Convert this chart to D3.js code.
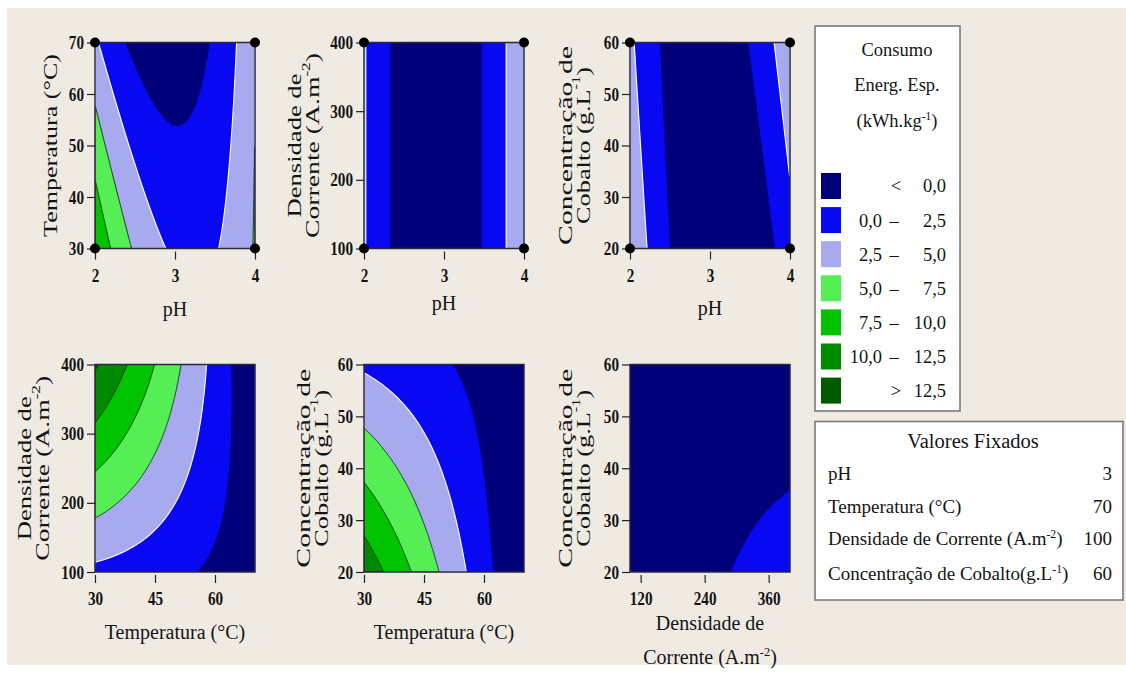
<!DOCTYPE html>
<html>
<head>
<meta charset="utf-8">
<script src="https://cdn.jsdelivr.net/npm/d3@7"></script>
<style>
  html, body { margin: 0; padding: 0; background: #ffffff; }
  svg { display: block; }
  text { font-family: "Liberation Serif", "Times New Roman", serif; fill: #141414; }
</style>
</head>
<body>
<svg id="chart" width="1126" height="673"></svg>
<script>
// ---------------- data ----------------
// contour levels of specific energy consumption (kWh.kg-1) and band colours
const levels = [0, 2.5, 5, 7.5, 10, 12.5];
const bandColors = ["#00007a", "#0808f2", "#a8aaf0", "#55ee55", "#00c400", "#008a00", "#005a00"];
const legendLow  = ["<", "0,0", "2,5", "5,0", "7,5", "10,0", ">"];
const legendHigh = ["0,0", "2,5", "5,0", "7,5", "10,0", "12,5", "12,5"];

// factor ranges and tick values
const phDomain   = [2, 4];
const tempDomain = [30, 70];
const densDomain = [100, 400];
const cobDomain  = [20, 60];
const phTicks    = [2, 3, 4];
const tempTicksY = [30, 40, 50, 60, 70];
const tempTicksX = [30, 45, 60];
const densTicksY = [100, 200, 300, 400];
const densTicksX = [120, 240, 360];
const cobTicks   = [20, 30, 40, 50, 60];

// fixed (hold) values
const fixedNames  = ["pH", "Temperatura (°C)", "Densidade de Corrente (A.m^{-2})", "Concentração de Cobalto(g.L^{-1})"];
const fixedValues = ["3", "70", "100", "60"];

// contour crossings [x, y, level] for each factor pair
const phTempLevels = [
  [2.354, 70, 0], [3.4375, 70, 0], [3.03, 52.8, 0], [2.625, 61.6, 0], [3.31, 61.6, 0],
  [2.054, 70, 2.5], [2.46, 49.9, 2.5], [2.86, 30, 2.5], [3.77, 70, 2.5], [3.69, 49.9, 2.5], [3.54, 30, 2.5],
  [2, 57.3, 5], [2.23, 42.1, 5], [2.46, 30, 5], [3.96, 30, 5], [4, 38.8, 5],
  [2, 44, 7.5], [2.1, 37, 7.5], [2.196, 30, 7.5]
];
const phDensLevels = [
  [2.03, 100, 2.5], [2.313, 100, 0], [3.457, 100, 0], [3.783, 100, 2.5],
  [2.03, 250, 2.5], [2.313, 250, 0], [3.457, 250, 0], [3.783, 250, 2.5],
  [2.03, 400, 2.5], [2.313, 400, 0], [3.457, 400, 0], [3.783, 400, 2.5]
];
const phCobLevels = [
  [2.375, 60, 0], [2.44, 40, 0], [2.51, 20, 0], [3.5, 60, 0], [3.646, 39.9, 0], [3.81, 20, 0],
  [2.054, 60, 2.5], [2.13, 40, 2.5], [2.208, 20, 2.5], [3.79, 60, 2.5], [3.896, 47, 2.5], [4, 34, 2.5]
];
const tempDensLevels = [
  [37.9, 400, 10], [32.9, 345, 10], [30, 306.5, 10],
  [44.9, 400, 7.5], [37.05, 292, 7.5], [30, 245.9, 7.5],
  [51.3, 400, 5], [42.9, 248, 5], [30, 180.5, 5],
  [57.8, 400, 2.5], [55.1, 262.8, 2.5], [49.9, 204.7, 2.5], [44.1, 151.4, 2.5], [30, 115, 2.5],
  [64.4, 400, 0], [63.2, 262.8, 0], [60.7, 166, 0], [56.5, 100, 0]
];
const tempCobLevels = [
  [54.1, 60, 0], [59, 39.8, 0], [62, 20, 0],
  [30, 58.2, 2.5], [41.2, 48.2, 2.5], [51.2, 35.3, 2.5], [56.1, 20, 2.5],
  [30, 48.2, 5], [42.9, 35.3, 5], [49.1, 20, 5],
  [30, 37.8, 7.5], [36.2, 30.1, 7.5], [41.6, 20, 7.5],
  [30, 27.5, 10], [34.1, 20, 10]
];
const densCobLevels = [
  [292.7, 20, 0], [324, 28, 0], [400, 35.4, 0],
  [100, 60, -1.8], [400, 60, -1.8], [100, 20, -2.3], [400, 20, 1.2]
];

// ---------------- helpers ----------------
// least-squares quadratic response surface through the read crossings
function fitSurface(pts, xd, yd) {
  const cx = (xd[0] + xd[1]) / 2, hx = (xd[1] - xd[0]) / 2;
  const cy = (yd[0] + yd[1]) / 2, hy = (yd[1] - yd[0]) / 2;
  const basis = (x, y) => { const u = (x - cx) / hx, v = (y - cy) / hy; return [1, u, v, u * u, v * v, u * v]; };
  const n = 6;
  const A = Array.from({ length: n }, () => new Array(n).fill(0));
  const b = new Array(n).fill(0);
  pts.forEach(([x, y, z]) => {
    const r = basis(x, y);
    for (let i = 0; i < n; i++) { b[i] += r[i] * z; for (let j = 0; j < n; j++) A[i][j] += r[i] * r[j]; }
  });
  for (let i = 0; i < n; i++) A[i][i] += 1e-4;
  for (let k = 0; k < n; k++) {
    let p = k;
    for (let i = k + 1; i < n; i++) if (Math.abs(A[i][k]) > Math.abs(A[p][k])) p = i;
    [A[k], A[p]] = [A[p], A[k]]; [b[k], b[p]] = [b[p], b[k]];
    for (let i = k + 1; i < n; i++) {
      const f = A[i][k] / A[k][k];
      for (let j = k; j < n; j++) A[i][j] -= f * A[k][j];
      b[i] -= f * b[k];
    }
  }
  const c = new Array(n).fill(0);
  for (let i = n - 1; i >= 0; i--) {
    let s = b[i];
    for (let j = i + 1; j < n; j++) s -= A[i][j] * c[j];
    c[i] = s / A[i][i];
  }
  return (x, y) => basis(x, y).reduce((s, r, i) => s + r * c[i], 0);
}

// text with ^{...} superscripts
function rich(sel, str, fs) {
  const parts = str.split(/(\^\{[^}]*\})/).filter(p => p.length);
  let raised = false;
  parts.forEach(p => {
    if (p.startsWith("^{")) {
      sel.append("tspan").attr("dy", -0.38 * fs).attr("font-size", 0.62 * fs).text(p.slice(2, -1));
      raised = true;
    } else {
      const t = sel.append("tspan").text(p);
      if (raised) { t.attr("dy", 0.38 * fs); raised = false; }
    }
  });
  return sel;
}

// ---------------- layout ----------------
const svg = d3.select("#chart");
svg.append("rect").attr("width", 1126).attr("height", 673).attr("fill", "#ffffff");
svg.append("rect").attr("x", 7).attr("y", 8).attr("width", 1119).attr("height", 657).attr("fill", "#efebe3");

const colX = [95, 364, 630];
const rowY = [42.5, 364.5];
const plotW = 160, plotH = 206;
// drawn length of each rotated axis title
const rotLen = {
  "Temperatura (°C)": 183, "Densidade de": 144, "Corrente (A.m^{-2})": 185,
  "Concentração de": 199, "Cobalto (g.L^{-1})": 157
};

const panels = [
  { pts: phTempLevels,   xd: phDomain,   yd: tempDomain, xt: phTicks,    yt: tempTicksY, col: 0, row: 0,
    xTitle: ["pH"], yTitle: ["Temperatura (°C)"], yOff: [-45], dots: true },
  { pts: phDensLevels,   xd: phDomain,   yd: densDomain, xt: phTicks,    yt: densTicksY, col: 1, row: 0,
    xTitle: ["pH"], yTitle: ["Densidade de", "Corrente (A.m^{-2})"], yOff: [-69, -51], dots: true },
  { pts: phCobLevels,    xd: phDomain,   yd: cobDomain,  xt: phTicks,    yt: cobTicks,   col: 2, row: 0,
    xTitle: ["pH"], yTitle: ["Concentração de", "Cobalto (g.L^{-1})"], yOff: [-65, -47], dots: true },
  { pts: tempDensLevels, xd: tempDomain, yd: densDomain, xt: tempTicksX, yt: densTicksY, col: 0, row: 1,
    xTitle: ["Temperatura (°C)"], yTitle: ["Densidade de", "Corrente (A.m^{-2})"], yOff: [-70, -52], dots: false },
  { pts: tempCobLevels,  xd: tempDomain, yd: cobDomain,  xt: tempTicksX, yt: cobTicks,   col: 1, row: 1,
    xTitle: ["Temperatura (°C)"], yTitle: ["Concentração de", "Cobalto (g.L^{-1})"], yOff: [-61, -43], dots: false },
  { pts: densCobLevels,  xd: densDomain, yd: cobDomain,  xt: densTicksX, yt: cobTicks,   col: 2, row: 1,
    xTitle: ["Densidade de", "Corrente (A.m^{-2})"], yTitle: ["Concentração de", "Cobalto (g.L^{-1})"], yOff: [-65, -47], dots: false }
];

const tickFs = 19, tickSX = 0.8, titleFs = 20, rotFs = 18.5;
const serif = '"Liberation Serif", "Times New Roman", serif';
const defs = svg.append("defs");

panels.forEach((p, idx) => {
  const x0 = colX[p.col], y0 = rowY[p.row];
  const h = p.row === 0 ? plotH : plotH + 1.5;
  const xs = d3.scaleLinear().domain(p.xd).range([x0, x0 + plotW]);
  const ys = d3.scaleLinear().domain(p.yd).range([y0 + h, y0]);
  const f = fitSurface(p.pts, p.xd, p.yd);

  // sample the surface on a grid and trace filled contour bands
  const nx = 160, ny = 206;
  const vals = new Float64Array(nx * ny);
  for (let j = 0; j < ny; j++) for (let i = 0; i < nx; i++) {
    const xv = p.xd[0] + (i + 0.5) / nx * (p.xd[1] - p.xd[0]);
    const yv = p.yd[1] - (j + 0.5) / ny * (p.yd[1] - p.yd[0]);
    vals[j * nx + i] = f(xv, yv);
  }
  const bands = d3.contours().size([nx, ny]).thresholds(levels)(vals);
  const proj = d3.geoTransform({
    point(gx, gy) {
      this.stream.point(
        xs(p.xd[0] + gx / nx * (p.xd[1] - p.xd[0])),
        ys(p.yd[1] - gy / ny * (p.yd[1] - p.yd[0]))
      );
    }
  });
  const path = d3.geoPath(proj);

  defs.append("clipPath").attr("id", "clip" + idx)
    .append("rect").attr("x", x0).attr("y", y0).attr("width", plotW).attr("height", h);
  const g = svg.append("g").attr("clip-path", `url(#clip${idx})`);
  g.append("rect").attr("x", x0).attr("y", y0).attr("width", plotW).attr("height", h).attr("fill", bandColors[0]);
  bands.forEach((b, k) => g.append("path").attr("d", path(b)).attr("fill", bandColors[k + 1]));
  bands.forEach((b, k) => {
    const lv = levels[k];
    if (lv === 0) return;
    g.append("path").attr("d", path(b)).attr("fill", "none")
      .attr("stroke", lv === 2.5 ? "#ffffff" : "#0b300b")
      .attr("stroke-width", lv === 2.5 ? 1.1 : 0.9);
  });

  // frame
  svg.append("rect").attr("x", x0).attr("y", y0).attr("width", plotW).attr("height", h)
    .attr("fill", "none").attr("stroke", "#2a2a3a").attr("stroke-width", 1.5);

  // axes
  const ax = svg.append("g").attr("transform", `translate(0,${y0 + h + 3})`)
    .call(d3.axisBottom(xs).tickValues(p.xt).tickSize(8).tickPadding(9).tickFormat(d3.format("d")));
  const ay = svg.append("g").attr("transform", `translate(${x0},0)`)
    .call(d3.axisLeft(ys).tickValues(p.yt).tickSize(8).tickPadding(3).tickFormat(d3.format("d")));
  [ax, ay].forEach(a => {
    a.attr("font-family", serif).attr("font-size", tickFs);
    a.select(".domain").remove();
    a.selectAll(".tick line").attr("stroke", "#222").attr("stroke-width", 1.2);
    a.selectAll(".tick text").attr("fill", "#141414").attr("font-weight", "bold")
      .style("font-family", serif).style("font-size", tickFs + "px");
  });
  ay.selectAll(".tick text").attr("x", -11 / tickSX).attr("transform", `scale(${tickSX},1)`);
  ax.selectAll(".tick text").attr("transform", `scale(${tickSX},1)`);

  // corner design points
  if (p.dots) {
    [[p.xd[0], p.yd[0]], [p.xd[1], p.yd[0]], [p.xd[0], p.yd[1]], [p.xd[1], p.yd[1]]].forEach(([a, b]) =>
      svg.append("circle").attr("cx", xs(a)).attr("cy", ys(b)).attr("r", 5).attr("fill", "#000"));
  }

  // y title (rotated, stretched along its length)
  const cyT = y0 + h / 2;
  p.yTitle.forEach((line, li) => {
    const t = svg.append("g").attr("transform", `translate(${x0 + p.yOff[li]},${cyT}) rotate(-90)`)
      .append("text").attr("text-anchor", "middle").attr("dominant-baseline", "central")
      .attr("font-size", rotFs);
    rich(t, line, rotFs);
    const len = t.node().getComputedTextLength();
    t.attr("transform", `scale(${rotLen[line] / len},1)`);
  });

  // x title
  const xBaseTop = [316, 310, 315];
  const xBaseBottom = p.xTitle.length === 1 ? [639] : [630, 664];
  p.xTitle.forEach((line, li) => {
    const by = p.row === 0 ? xBaseTop[p.col] : xBaseBottom[li];
    const t = svg.append("text").attr("x", x0 + plotW / 2).attr("y", by)
      .attr("text-anchor", "middle").attr("font-size", titleFs);
    rich(t, line, titleFs);
  });
});

// ---------------- legend ----------------
const lg = svg.append("g");
lg.append("rect").attr("x", 815).attr("y", 26).attr("width", 145).attr("height", 385)
  .attr("fill", "#ffffff").attr("stroke", "#7a7a7a").attr("stroke-width", 1.6);
const legFs = 18.5;
[["Consumo", 56], ["Energ. Esp.", 91], ["(kWh.kg^{-1})", 127]].forEach(([s, y]) => {
  rich(lg.append("text").attr("x", 897).attr("y", y).attr("text-anchor", "middle").attr("font-size", legFs), s, legFs);
});
bandColors.forEach((col, i) => {
  const yc = 186 + i * 34.1;
  lg.append("rect").attr("x", 821).attr("y", yc - 13).attr("width", 20).attr("height", 26).attr("fill", col);
  if (legendLow[i] === "<" || legendLow[i] === ">") {
    lg.append("text").attr("x", 896).attr("y", yc).attr("dy", "0.35em").attr("text-anchor", "middle")
      .attr("font-size", legFs).text(legendLow[i]);
  } else {
    lg.append("text").attr("x", 882).attr("y", yc).attr("dy", "0.35em").attr("text-anchor", "end")
      .attr("font-size", legFs).text(legendLow[i]);
    lg.append("text").attr("x", 894).attr("y", yc).attr("dy", "0.35em").attr("text-anchor", "middle")
      .attr("font-size", legFs).text("–");
  }
  lg.append("text").attr("x", 946).attr("y", yc).attr("dy", "0.35em").attr("text-anchor", "end")
    .attr("font-size", legFs).text(legendHigh[i]);
});

// ---------------- fixed values box ----------------
const fb = svg.append("g");
fb.append("rect").attr("x", 815).attr("y", 421.5).attr("width", 308).attr("height", 178.5)
  .attr("fill", "#ffffff").attr("stroke", "#7a7a7a").attr("stroke-width", 1.6);
fb.append("text").attr("x", 973).attr("y", 448).attr("text-anchor", "middle").attr("font-size", 20.5).text("Valores Fixados");
const rowYs = [480, 513, 545, 580];
fixedNames.forEach((nm, i) => {
  rich(fb.append("text").attr("x", 828).attr("y", rowYs[i]).attr("font-size", 19), nm, 19);
  fb.append("text").attr("x", 1112).attr("y", rowYs[i]).attr("text-anchor", "end").attr("font-size", 19).text(fixedValues[i]);
});
</script>
</body>
</html>
